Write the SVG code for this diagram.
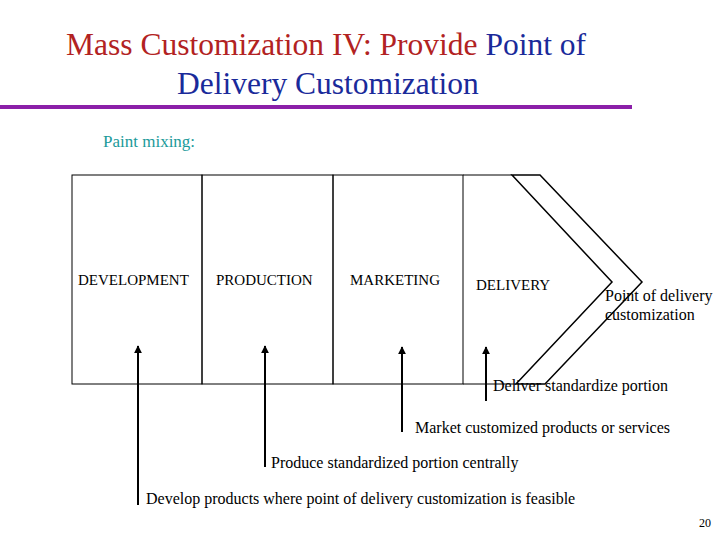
<svg xmlns="http://www.w3.org/2000/svg" width="720" height="540" viewBox="0 0 720 540" font-family="'Liberation Serif','Times New Roman','DejaVu Serif',serif">
<style>
text{font-family:'Liberation Serif','Times New Roman','DejaVu Serif',serif;fill:#000}
.t{font-size:31.5px}
.n{font-size:15px}
.s{font-size:16px}
.l{stroke:#000;stroke-width:1;fill:none}
.a{stroke:#000;stroke-width:2;fill:none;marker-end:url(#ah)}
</style>
<defs><marker id="ah" viewBox="0 0 10 10" refX="9" refY="5" markerWidth="4" markerHeight="5" orient="auto"><path d="M0,0L10,5L0,10z" fill="#000"/></marker></defs>
<rect width="720" height="540" fill="#fff"/>
<g id="title">
<text class="t" x="66" y="55"><tspan fill="#b22222">Mass Customization IV: Provide </tspan><tspan fill="#1a2a9a">Point of</tspan></text>
<text class="t" x="177" y="94" style="fill:#1a2a9a">Delivery Customization</text>
<line x1="0" y1="107" x2="632" y2="107" stroke="#8b1fa8" stroke-width="4"/>
<text x="103" y="147" style="font-size:17px;fill:#1a9a9a">Paint mixing:</text>
</g>
<g id="development"><rect class="l" x="72" y="175" width="130" height="209"/><text class="n" x="78" y="285">DEVELOPMENT</text></g>
<g id="production"><rect class="l" x="202" y="175" width="131" height="209"/><text class="n" x="216" y="285">PRODUCTION</text></g>
<g id="marketing"><rect class="l" x="333" y="175" width="130" height="209"/><text class="n" x="350" y="285">MARKETING</text></g>
<g id="delivery"><path class="l" d="M463,175H512M463,384H516"/><text class="n" x="476" y="290">DELIVERY</text></g>
<g id="chevron"><path d="M512,175H540L642,282L545,384H516L612,282Z" fill="#fff" stroke="#000" stroke-width="1.5"/>
<text class="s" x="605" y="301">Point of delivery</text><text class="s" x="605" y="320">customization</text></g>
<g id="connectors">
<path class="a" d="M138,505V346"/>
<path class="a" d="M265,467V346"/>
<path class="a" d="M402,432V347"/>
<path class="a" d="M486,401V347"/>
</g>
<g id="labels">
<text class="s" x="493" y="391">Deliver standardize portion</text>
<text class="s" x="415" y="433">Market customized products or services</text>
<text class="s" x="271" y="468">Produce standardized portion centrally</text>
<text class="s" x="146" y="504">Develop products where point of delivery customization is feasible</text>
<text x="699" y="527" style="font-size:12px">20</text>
</g>
</svg>
